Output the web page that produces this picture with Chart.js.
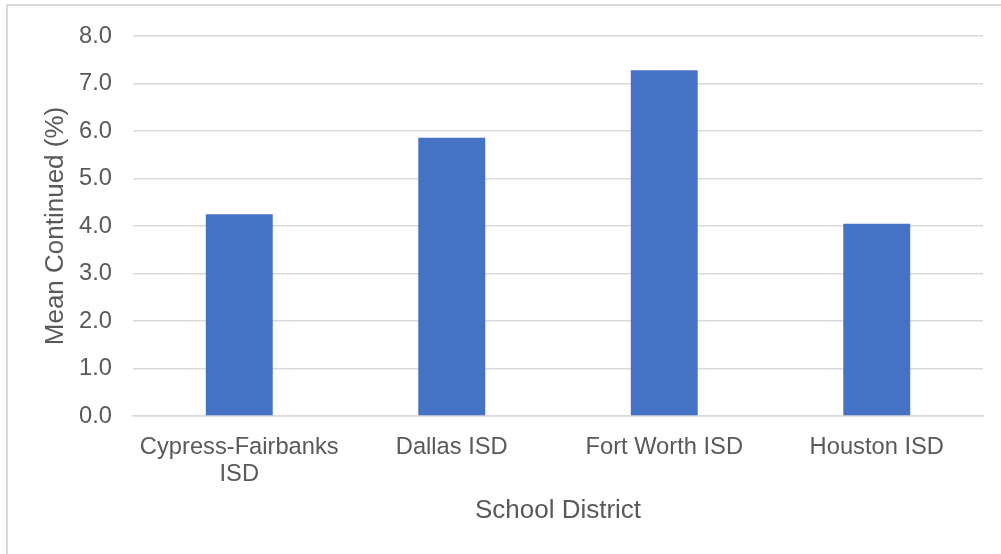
<!DOCTYPE html>
<html>
<head>
<meta charset="utf-8">
<script src="https://cdn.jsdelivr.net/npm/chart.js@4.4.0/dist/chart.umd.min.js"></script>
<style>
  html, body { margin: 0; padding: 0; background: #fff; overflow: hidden; }
  #wrap { position: relative; width: 1001px; height: 554px; }
  #frame {
    position: absolute; left: 6px; top: 4px; width: 1100px; height: 700px;
    border: 2px solid #d9d9d9; pointer-events: none;
  }
  canvas { position: absolute; left: 0; top: 0; }
</style>
</head>
<body>
<div id="wrap">
  <canvas id="chart" width="1001" height="554"></canvas>
  <div id="frame"></div>
</div>
<script>
const districts = [['Cypress-Fairbanks', 'ISD'], 'Dallas ISD', 'Fort Worth ISD', 'Houston ISD'];
const meanContinued = [4.25, 5.86, 7.28, 4.05];
const yTicks = [0, 1, 2, 3, 4, 5, 6, 7, 8];

const textColor = '#595959';
const gridColor = '#d9d9d9';
const tickFont = { family: '"Liberation Sans", Arial, sans-serif', size: 23.7, lineHeight: 1.15 };
const titleFont = { family: '"Liberation Sans", Arial, sans-serif', size: 26, lineHeight: 1.2 };

new Chart(document.getElementById('chart'), {
  type: 'bar',
  data: {
    labels: districts,
    datasets: [{
      label: 'Mean Continued (%)',
      data: meanContinued,
      backgroundColor: '#4472C4',
      borderWidth: 0,
      categoryPercentage: 1,
      barPercentage: 0.315,
    }],
  },
  options: {
    responsive: false,
    animation: false,
    layout: { padding: { left: 40, right: 18, top: 36, bottom: 28 } },
    plugins: {
      legend: { display: false },
      tooltip: { enabled: false },
    },
    scales: {
      x: {
        grid: { display: false, drawTicks: false },
        border: { display: true, color: gridColor, width: 1.5 },
        ticks: { color: textColor, font: tickFont, padding: 18, maxRotation: 0, autoSkip: false },
        title: { display: true, text: 'School District', color: textColor, font: titleFont, padding: 0 },
        afterFit: (scale) => { scale.height = 110; },
      },
      y: {
        min: 0,
        max: 8,
        afterBuildTicks: (scale) => { scale.ticks = yTicks.map(v => ({ value: v })); },
        grid: { color: gridColor, lineWidth: 1.5, drawTicks: false },
        border: { display: false },
        ticks: {
          color: textColor, font: tickFont, padding: 21,
          callback: (v) => Number(v).toFixed(1),
        },
        title: { display: true, text: 'Mean Continued (%)', color: textColor, font: titleFont, padding: 0 },
        afterFit: (scale) => { scale.width = 93; },
      },
    },
  },
});
</script>
</body>
</html>
